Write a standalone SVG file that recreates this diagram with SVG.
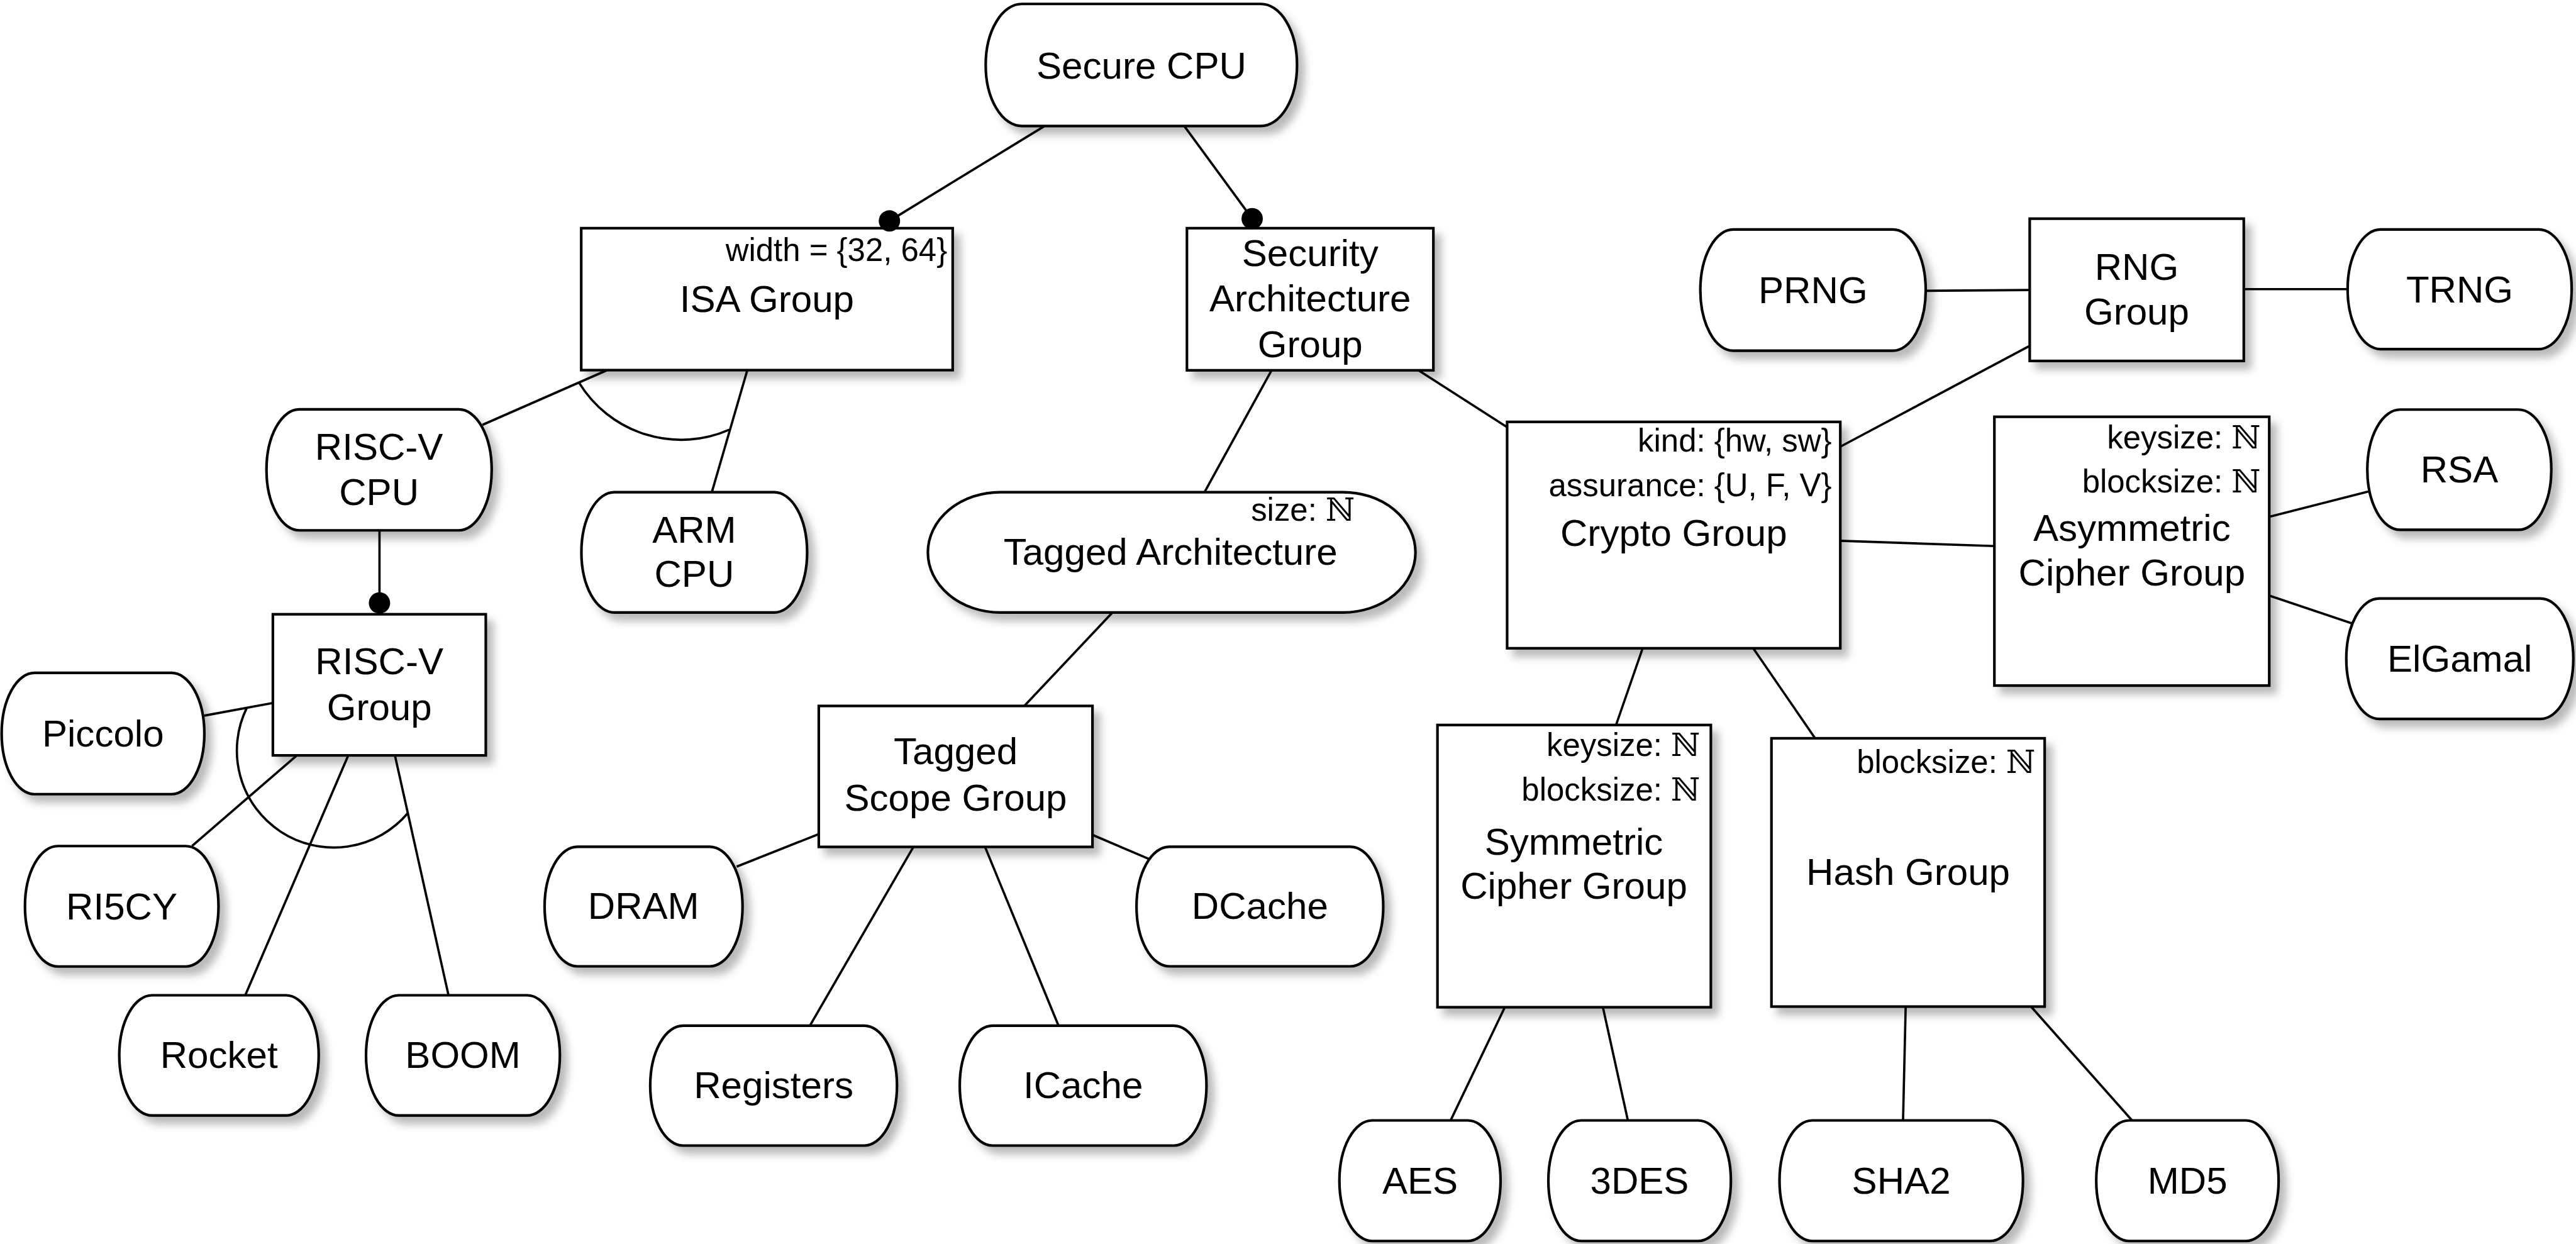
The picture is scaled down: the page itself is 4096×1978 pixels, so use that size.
<svg xmlns="http://www.w3.org/2000/svg" width="4096" height="1978" viewBox="0 0 4096 1978">
<defs>
<style>
.leaf,.grp{fill:#fff;stroke:#000;stroke-width:1.6;filter:url(#sh)}
.edge{fill:none;stroke:#000;stroke-width:1.4}
.dot{fill:#000}
text{font-family:"Liberation Sans",Arial,Helvetica,sans-serif;fill:#000}
.lbl{font-size:23px;text-anchor:middle}
.attr{font-size:19.5px;text-anchor:end}
.nat{font-family:"DejaVu Serif","DejaVu Sans",serif}
</style>
<filter id="sh" x="-20%" y="-20%" width="150%" height="160%">
<feDropShadow dx="4" dy="4.5" stdDeviation="2.5" flood-color="#000" flood-opacity="0.27"/>
</filter>
</defs>
<rect width="4096" height="1978" fill="#fff"/>
<g transform="scale(2.6122)">
<g id="nodes">
<g id="secure_cpu"><rect class="leaf" x="600" y="2.4" width="189.5" height="74.3" rx="22" ry="37"/><text class="lbl" x="694.8" y="47.7">Secure CPU</text></g>
<g id="isa_group"><rect class="grp" x="353.8" y="138.9" width="226.1" height="86.4"/><text class="attr" x="576.6" y="158.8">width = {32, 64}</text><text class="lbl" x="466.8" y="190">ISA Group</text></g>
<g id="security_architecture_group"><rect class="grp" x="722.5" y="138.9" width="150" height="86.5"/><text class="lbl" x="797.5" y="161.9">Security</text><text class="lbl" x="797.5" y="189.6">Architecture</text><text class="lbl" x="797.5" y="217.3">Group</text></g>
<g id="risc_v_cpu"><rect class="leaf" x="162.2" y="249.2" width="137.1" height="73.6" rx="20" ry="36.8"/><text class="lbl" x="230.7" y="280">RISC-V</text><text class="lbl" x="230.7" y="307.3">CPU</text></g>
<g id="arm_cpu"><rect class="leaf" x="353.9" y="299.6" width="137.4" height="73.2" rx="20" ry="36.6"/><text class="lbl" x="422.6" y="330.4">ARM</text><text class="lbl" x="422.6" y="357.3">CPU</text></g>
<g id="risc_v_group"><rect class="grp" x="166.1" y="373.9" width="129.6" height="85.9"/><text class="lbl" x="230.9" y="410.5">RISC-V</text><text class="lbl" x="230.9" y="438.2">Group</text></g>
<g id="piccolo"><rect class="leaf" x="1" y="409.6" width="123.4" height="73.8" rx="20" ry="36.9"/><text class="lbl" x="62.7" y="454.3">Piccolo</text></g>
<g id="ri5cy"><rect class="leaf" x="15.2" y="515" width="117.8" height="73.3" rx="20" ry="36.6"/><text class="lbl" x="74.1" y="559.5">RI5CY</text></g>
<g id="rocket"><rect class="leaf" x="72.6" y="605.8" width="121.4" height="73.2" rx="20" ry="36.6"/><text class="lbl" x="133.3" y="650">Rocket</text></g>
<g id="boom"><rect class="leaf" x="222.8" y="605.8" width="118" height="73.2" rx="20" ry="36.6"/><text class="lbl" x="281.8" y="650">BOOM</text></g>
<g id="tagged_architecture"><rect class="leaf" x="564.8" y="299.6" width="296.8" height="73.2" rx="44" ry="36.6"/><text class="attr" x="824.8" y="317">size: <tspan class="nat">ℕ</tspan></text><text class="lbl" x="712.5" y="343.9">Tagged Architecture</text></g>
<g id="tagged_scope_group"><rect class="grp" x="498.4" y="429.7" width="166.6" height="85.8"/><text class="lbl" x="581.7" y="465.3">Tagged</text><text class="lbl" x="581.7" y="493.5">Scope Group</text></g>
<g id="dram"><rect class="leaf" x="331.5" y="515.4" width="120.5" height="72.8" rx="20" ry="36.4"/><text class="lbl" x="391.7" y="559.2">DRAM</text></g>
<g id="dcache"><rect class="leaf" x="691.8" y="515.4" width="150.2" height="72.8" rx="20" ry="36.4"/><text class="lbl" x="766.9" y="559.2">DCache</text></g>
<g id="registers"><rect class="leaf" x="395.8" y="624.3" width="150.2" height="73" rx="20" ry="36.5"/><text class="lbl" x="470.9" y="668.3">Registers</text></g>
<g id="icache"><rect class="leaf" x="584.2" y="624.3" width="150.2" height="73" rx="20" ry="36.5"/><text class="lbl" x="659.3" y="668.3">ICache</text></g>
<g id="crypto_group"><rect class="grp" x="917.4" y="256.8" width="202.8" height="137.8"/><text class="attr" x="1115" y="274.9">kind: {hw, sw}</text><text class="attr" x="1115" y="302.2">assurance: {U, F, V}</text><text class="lbl" x="1018.8" y="332.4">Crypto Group</text></g>
<g id="prng"><rect class="leaf" x="1035" y="139.7" width="137.2" height="73.8" rx="20" ry="36.9"/><text class="lbl" x="1103.6" y="184.6">PRNG</text></g>
<g id="rng_group"><rect class="grp" x="1235.5" y="133.1" width="130.3" height="86.6"/><text class="lbl" x="1300.6" y="170.5">RNG</text><text class="lbl" x="1300.6" y="197.4">Group</text></g>
<g id="trng"><rect class="leaf" x="1429" y="139.7" width="136.4" height="72.8" rx="20" ry="36.4"/><text class="lbl" x="1497.2" y="184.2">TRNG</text></g>
<g id="asymmetric_cipher_group"><rect class="grp" x="1214" y="253.7" width="167.3" height="163.6"/><text class="attr" x="1376.2" y="273">keysize: <tspan class="nat">ℕ</tspan></text><text class="attr" x="1376.2" y="299.6">blocksize: <tspan class="nat">ℕ</tspan></text><text class="lbl" x="1297.7" y="329.4">Asymmetric</text><text class="lbl" x="1297.7" y="356.5">Cipher Group</text></g>
<g id="rsa"><rect class="leaf" x="1441" y="249.3" width="112" height="73.2" rx="20" ry="36.6"/><text class="lbl" x="1497" y="293.8">RSA</text></g>
<g id="elgamal"><rect class="leaf" x="1428.2" y="364.3" width="138.2" height="73.3" rx="20" ry="36.6"/><text class="lbl" x="1497.3" y="409">ElGamal</text></g>
<g id="symmetric_cipher_group"><rect class="grp" x="875" y="441.3" width="166.4" height="171.8"/><text class="attr" x="1035" y="460.2">keysize: <tspan class="nat">ℕ</tspan></text><text class="attr" x="1035" y="487.5">blocksize: <tspan class="nat">ℕ</tspan></text><text class="lbl" x="958" y="520.3">Symmetric</text><text class="lbl" x="958" y="547.2">Cipher Group</text></g>
<g id="hash_group"><rect class="grp" x="1078.3" y="449.4" width="166.3" height="163.3"/><text class="attr" x="1239" y="470.3">blocksize: <tspan class="nat">ℕ</tspan></text><text class="lbl" x="1161.5" y="538.5">Hash Group</text></g>
<g id="aes"><rect class="leaf" x="815.3" y="682" width="98.1" height="73.4" rx="20" ry="36.7"/><text class="lbl" x="864.4" y="726.5">AES</text></g>
<g id="des3"><rect class="leaf" x="942.5" y="682" width="111.1" height="73.4" rx="20" ry="36.7"/><text class="lbl" x="998" y="726.5">3DES</text></g>
<g id="sha2"><rect class="leaf" x="1083.2" y="682" width="148.2" height="73.4" rx="20" ry="36.7"/><text class="lbl" x="1157.3" y="726.5">SHA2</text></g>
<g id="md5"><rect class="leaf" x="1276" y="682" width="111" height="73.4" rx="20" ry="36.7"/><text class="lbl" x="1331.5" y="726.5">MD5</text></g>
</g>
<g id="connectors">
<line class="edge" x1="636" y1="76.6" x2="541.4" y2="134.5"/><circle class="dot" cx="541.4" cy="134.5" r="6.5"/>
<line class="edge" x1="720.8" y1="76.6" x2="762.2" y2="133.1"/><circle class="dot" cx="762.2" cy="133.1" r="6.5"/>
<line class="edge" x1="369.6" y1="225.3" x2="293.7" y2="258.6"/>
<line class="edge" x1="454.9" y1="225.3" x2="433.3" y2="299.6"/>
<path class="edge" d="M352.5,233 A72.9,72.9 0 0 0 443.8,261.6"/>
<line class="edge" x1="231" y1="322.8" x2="231" y2="367"/><circle class="dot" cx="231" cy="367" r="6.5"/>
<line class="edge" x1="166.1" y1="427.9" x2="124.4" y2="435.6"/>
<line class="edge" x1="180.7" y1="459.8" x2="116.9" y2="514.9"/>
<line class="edge" x1="212" y1="459.8" x2="149.3" y2="605.8"/>
<line class="edge" x1="240.4" y1="459.8" x2="273" y2="605.8"/>
<path class="edge" d="M150.2,430.9 A59,59 0 0 0 248.2,495"/>
<line class="edge" x1="774" y1="225.4" x2="733.2" y2="299.6"/>
<line class="edge" x1="863.4" y1="225.4" x2="917.4" y2="260"/>
<line class="edge" x1="677.2" y1="372.8" x2="623.5" y2="429.7"/>
<line class="edge" x1="498.4" y1="507.7" x2="448.4" y2="527.5"/>
<line class="edge" x1="665" y1="508.2" x2="699.7" y2="523"/>
<line class="edge" x1="556" y1="515.5" x2="493" y2="624.3"/>
<line class="edge" x1="599.6" y1="515.5" x2="644.3" y2="624.3"/>
<line class="edge" x1="1120.2" y1="271.9" x2="1235.5" y2="210.5"/>
<line class="edge" x1="1172.2" y1="177" x2="1235.5" y2="176.5"/>
<line class="edge" x1="1365.8" y1="176" x2="1429" y2="176"/>
<line class="edge" x1="1120.2" y1="329.2" x2="1214" y2="332.4"/>
<line class="edge" x1="1381.3" y1="314.6" x2="1441.7" y2="299.2"/>
<line class="edge" x1="1381.3" y1="362.5" x2="1432" y2="379.6"/>
<line class="edge" x1="999.9" y1="394.6" x2="983.7" y2="441.3"/>
<line class="edge" x1="1067.2" y1="394.6" x2="1104.9" y2="449.4"/>
<line class="edge" x1="916" y1="613.1" x2="883" y2="682"/>
<line class="edge" x1="975.7" y1="613.1" x2="990.9" y2="682"/>
<line class="edge" x1="1160" y1="612.7" x2="1158.4" y2="682"/>
<line class="edge" x1="1236.3" y1="612.7" x2="1297.8" y2="682"/>
</g>
</g>
</svg>
